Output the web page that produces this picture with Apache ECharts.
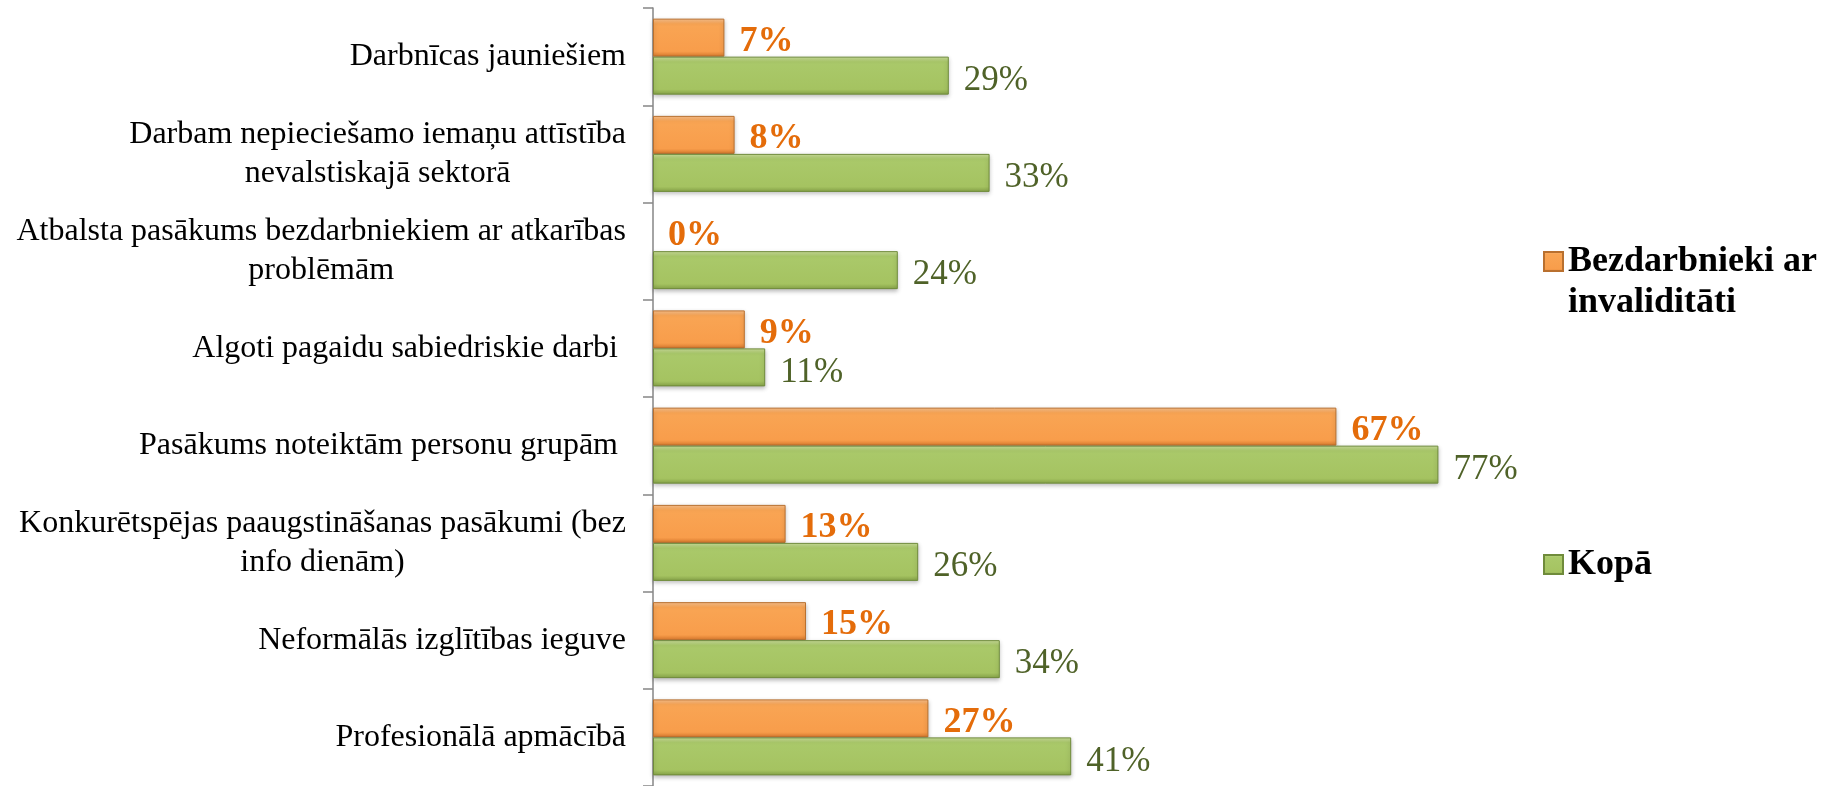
<!DOCTYPE html>
<html>
<head>
<meta charset="utf-8">
<script src="https://cdn.jsdelivr.net/npm/echarts@6/dist/echarts.min.js"></script>
<style>
  html, body { margin: 0; padding: 0; background: #fff; }
  #chart { width: 1837px; height: 786px; }
</style>
</head>
<body>
<div id="chart"></div>
<script>
const categories = [
  'Darbnīcas jauniešiem',
  'Darbam nepieciešamo iemaņu attīstība\nnevalstiskajā sektorā',
  'Atbalsta pasākums bezdarbniekiem ar atkarības\nproblēmām',
  'Algoti pagaidu sabiedriskie darbi ',
  'Pasākums noteiktām personu grupām ',
  'Konkurētspējas paaugstināšanas pasākumi (bez\ninfo dienām)',
  'Neformālās izglītības ieguve',
  'Profesionālā apmācībā'
];
const seriesNames = ['Bezdarbnieki ar invaliditāti', 'Kopā'];
const invaliditati = [7, 8, 0, 9, 67, 13, 15, 27];
const kopa = [29, 33, 24, 11, 77, 26, 34, 41];

const FONT = "'Liberation Serif', 'Times New Roman', serif";
const chart = echarts.init(document.getElementById('chart'), null, { renderer: 'canvas' });

const orangeFill = new echarts.graphic.LinearGradient(0, 0, 0, 1, [
  { offset: 0, color: '#FCC28E' },
  { offset: 0.14, color: '#F9A554' },
  { offset: 0.86, color: '#F89D4B' },
  { offset: 1, color: '#D97A2E' }
]);
const greenFill = new echarts.graphic.LinearGradient(0, 0, 0, 1, [
  { offset: 0, color: '#CCE09B' },
  { offset: 0.14, color: '#AAC96A' },
  { offset: 0.86, color: '#A5C361' },
  { offset: 1, color: '#86A348' }
]);

const legendText = {
  fontFamily: FONT, fontSize: 36, fontWeight: 'bold', color: '#000', lineHeight: 41
};

function toItems(arr) {
  return arr.map(function (v) {
    return v === 0 ? { value: v, itemStyle: { borderWidth: 0 } } : v;
  });
}

chart.setOption({
  animation: false,
  backgroundColor: '#fff',
  grid: { left: 653, top: 8, width: 1020, height: 782, containLabel: false },
  xAxis: { type: 'value', min: 0, max: 100, show: false },
  yAxis: {
    type: 'category',
    inverse: true,
    data: categories,
    axisLine: { show: true, lineStyle: { color: '#868686', width: 1.5 } },
    axisTick: { show: true, length: 10, lineStyle: { color: '#868686', width: 1.5 } },
    axisLabel: {
      margin: 27,
      formatter: function (v) {
        return v.split('\n').map(function (l) { return '{c|' + l + '}'; }).join('\n');
      },
      rich: {
        c: { align: 'center', fontFamily: FONT, fontSize: 32, color: '#000', lineHeight: 39 }
      }
    }
  },
  legend: [
    {
      data: [seriesNames[0]],
      left: 1543, top: 200, padding: 0,
      orient: 'vertical',
      icon: 'rect', itemWidth: 19, itemHeight: 19,
      selectedMode: false,
      formatter: function () { return ' \nBezdarbnieki ar\ninvaliditāti'; },
      textStyle: legendText
    },
    {
      data: [seriesNames[1]],
      left: 1543, top: 544, padding: 0,
      orient: 'vertical',
      icon: 'rect', itemWidth: 19, itemHeight: 19,
      selectedMode: false,
      textStyle: legendText
    }
  ],
  series: [
    {
      name: seriesNames[0],
      type: 'bar',
      data: toItems(invaliditati),
      barWidth: 38,
      barGap: '0%',
      itemStyle: {
        color: orangeFill, borderColor: '#B9702F', borderWidth: 1,
        shadowColor: 'rgba(0,0,0,0.25)', shadowBlur: 4, shadowOffsetY: 2
      },
      label: {
        show: true, position: 'right', distance: 15, offset: [0, 4],
        formatter: '{c}%',
        fontFamily: FONT, fontSize: 36, fontWeight: 'bold', color: '#E46C0A'
      }
    },
    {
      name: seriesNames[1],
      type: 'bar',
      data: toItems(kopa),
      barWidth: 38,
      barGap: '0%',
      itemStyle: {
        color: greenFill, borderColor: '#6F8B3B', borderWidth: 1,
        shadowColor: 'rgba(0,0,0,0.25)', shadowBlur: 4, shadowOffsetY: 2
      },
      label: {
        show: true, position: 'right', distance: 15, offset: [0, 5],
        formatter: '{c}%',
        fontFamily: FONT, fontSize: 35, color: '#4F6228'
      }
    }
  ]
});
</script>
</body>
</html>
